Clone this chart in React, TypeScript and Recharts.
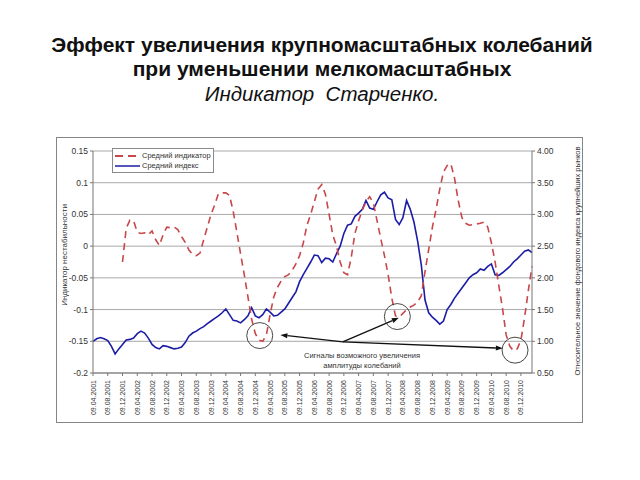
import {
  LineChart,
  Line,
  XAxis,
  YAxis,
  CartesianGrid,
  Legend,
  ReferenceDot,
  ReferenceLine,
} from 'recharts';

// monthly points, Apr 2001 .. Mar 2011
// relative value of the stock index (right axis)
const indexValues = [
  1.0, 1.04, 1.06, 1.04, 1.01, 0.92, 0.8, 0.88, 0.95, 1.02,
  1.03, 1.05, 1.12, 1.16, 1.13, 1.05, 0.95, 0.9, 0.88, 0.93,
  0.92, 0.9, 0.88, 0.89, 0.91, 0.98, 1.08, 1.13, 1.16, 1.2,
  1.23, 1.28, 1.32, 1.36, 1.4, 1.45, 1.51, 1.42, 1.33, 1.32,
  1.29, 1.34, 1.4, 1.53, 1.4, 1.37, 1.42, 1.51, 1.46, 1.4,
  1.41, 1.46, 1.51, 1.6, 1.69, 1.78, 1.94, 2.05, 2.15, 2.25,
  2.36, 2.35, 2.24, 2.31, 2.3, 2.25, 2.38, 2.5, 2.7, 2.83,
  2.85, 2.97, 3.02, 3.08, 3.22, 3.1, 3.08, 3.2, 3.31, 3.35,
  3.26, 3.23, 2.92, 2.84, 2.95, 3.22, 3.08, 2.88, 2.58, 2.2,
  1.65, 1.45, 1.38, 1.33, 1.27, 1.32, 1.5, 1.58, 1.68, 1.76,
  1.84, 1.92, 2.0, 2.05, 2.08, 2.14, 2.12, 2.18, 2.22, 2.05,
  2.04, 2.08, 2.13, 2.18, 2.25, 2.3, 2.36, 2.42, 2.44, 2.4,
];

// instability indicator (left axis)
const indicatorValues = [
  null, null, null, null, null, null, null, null, -0.025, 0.028,
  0.041, 0.04, 0.022, 0.02, 0.021, 0.018, 0.024, 0.01, 0.001, 0.018,
  0.03, 0.029, 0.03, 0.026, 0.015, 0.006, -0.006, -0.013, -0.015, -0.011,
  0.01, 0.03, 0.05, 0.065, 0.083, 0.084, 0.084, 0.08, 0.055, 0.022,
  -0.012, -0.045, -0.08, -0.115, -0.138, -0.148, -0.15, -0.14, -0.108, -0.08,
  -0.065, -0.055, -0.048, -0.045, -0.038, -0.028, -0.015, 0.005, 0.033, 0.05,
  0.07, 0.09, 0.097, 0.082, 0.05, 0.018, 0.0, -0.025, -0.042, -0.045,
  -0.018, 0.02, 0.04, 0.057, 0.07, 0.078, 0.068, 0.04, 0.012, -0.015,
  -0.045, -0.082, -0.11, -0.112, -0.106, -0.1, -0.096, -0.093, -0.088, -0.078,
  -0.04, -0.005, 0.03, 0.058, 0.09, 0.117, 0.127, 0.13, 0.107, 0.072,
  0.045, 0.036, 0.033, 0.034, 0.035, 0.036, 0.038, 0.03, 0.005, -0.025,
  -0.062, -0.098, -0.14, -0.158, -0.165, -0.162, -0.148, -0.112, -0.07, -0.032,
];

const tickLabels = [
  '09.04.2001', '09.08.2001', '09.12.2001', '09.04.2002', '09.08.2002', '09.12.2002',
  '09.04.2003', '09.08.2003', '09.12.2003', '09.04.2004', '09.08.2004', '09.12.2004',
  '09.04.2005', '09.08.2005', '09.12.2005', '09.04.2006', '09.08.2006', '09.12.2006',
  '09.04.2007', '09.08.2007', '09.12.2007', '09.04.2008', '09.08.2008', '09.12.2008',
  '09.04.2009', '09.08.2009', '09.12.2009', '09.04.2010', '09.08.2010', '09.12.2010',
];

const leftTicks = [0.15, 0.1, 0.05, 0, -0.05, -0.1, -0.15, -0.2];
const rightTicks = [4, 3.5, 3, 2.5, 2, 1.5, 1, 0.5];

// circled signals and the arrow from the caption, in chart coordinates
const signals = [
  { m: 45.2, v: -0.141 },
  { m: 82.5, v: -0.111 },
  { m: 114.4, v: -0.164 },
];
const arrowFrom = { m: 67.7, v: -0.151 };
const arrowTo = [
  { m: 50.8, v: -0.14 },
  { m: 82.9, v: -0.113 },
  { m: 111.1, v: -0.161 },
];

const data = indexValues.map((idx, i) => ({
  m: i,
  idx,
  ind: indicatorValues[i],
}));

const tickMonths = tickLabels.map((_, i) => i * 4);

const FONT = '"Liberation Sans", Arial, sans-serif';
const RED = '#c8474a';
const BLUE = '#1c1ca6';

const DateTick = (props: any) => {
  const { x, y, payload } = props;
  const label = tickLabels[Math.round(payload.value / 4)];
  const ty = y + 2;
  return (
    <text
      x={x}
      y={ty}
      dy={2.5}
      transform={`rotate(-90 ${x} ${ty})`}
      textAnchor="end"
      fontSize={7}
      fontFamily={FONT}
      fill="#333"
    >
      {label}
    </text>
  );
};

const Arrow = (props: any) => {
  const { x1, y1, x2, y2 } = props;
  const a = Math.atan2(y2 - y1, x2 - x1);
  const len = 7;
  const w = 2.6;
  const bx = x2 - len * Math.cos(a);
  const by = y2 - len * Math.sin(a);
  const px = -Math.sin(a) * w;
  const py = Math.cos(a) * w;
  return (
    <g>
      <line x1={x1} y1={y1} x2={bx} y2={by} stroke="#111" strokeWidth={1.3} />
      <polygon
        points={`${x2},${y2} ${bx + px},${by + py} ${bx - px},${by - py}`}
        fill="#111"
      />
    </g>
  );
};

const renderLegend = () => (
  <div
    style={{
      width: 102,
      height: 25,
      border: '1px solid #8a8a8a',
      background: '#fff',
      boxSizing: 'border-box',
      fontFamily: FONT,
      fontSize: 7.5,
      color: '#333',
      padding: '2px 0 0 2px',
      lineHeight: '10px',
    }}
  >
    <div style={{ display: 'flex', alignItems: 'center', height: 10 }}>
      <svg width={25} height={6} style={{ marginRight: 2 }}>
        <line x1={0} y1={3} x2={25} y2={3} stroke={RED} strokeWidth={2} strokeDasharray="8 5" />
      </svg>
      Средний индикатор
    </div>
    <div style={{ display: 'flex', alignItems: 'center', height: 10 }}>
      <svg width={25} height={6} style={{ marginRight: 2 }}>
        <line x1={0} y1={3} x2={25} y2={3} stroke={BLUE} strokeWidth={1.5} />
      </svg>
      Средний индекс
    </div>
  </div>
);

export default function App() {
  return (
    <div style={{ position: 'absolute', left: 0, top: 0, width: 640, height: 480, background: '#fff' }}>
      <div
        style={{
          position: 'absolute',
          left: 0,
          top: 33,
          width: 644,
          textAlign: 'center',
          fontFamily: FONT,
          fontWeight: 'bold',
          fontSize: 21,
          lineHeight: '24px',
          color: '#111',
        }}
      >
        Эффект увеличения крупномасштабных колебаний
        <br />
        при уменьшении мелкомасштабных
      </div>
      <div
        style={{
          position: 'absolute',
          left: 0,
          top: 82,
          width: 644,
          textAlign: 'center',
          fontFamily: FONT,
          fontStyle: 'italic',
          fontSize: 20.5,
          lineHeight: '24px',
          color: '#111',
          whiteSpace: 'pre',
        }}
      >
        {'Индикатор  Старченко.'}
      </div>

      <div
        style={{
          position: 'absolute',
          left: 56,
          top: 137,
          width: 527,
          height: 286,
          border: '1px solid #858585',
          boxSizing: 'border-box',
        }}
      />

      <div style={{ position: 'absolute', left: 0, top: 0 }}>
        <LineChart
          width={640}
          height={480}
          data={data}
          margin={{ top: 151, right: 58, bottom: 57, left: 56 }}
        >
          <CartesianGrid vertical={false} stroke="#a8a8a8" yAxisId="left" />
          <XAxis
            dataKey="m"
            type="number"
            domain={[0, 119]}
            ticks={tickMonths}
            interval={0}
            height={50}
            tick={<DateTick />}
            tickSize={3}
            stroke="#777"
          />
          <YAxis
            yAxisId="left"
            domain={[-0.2, 0.15]}
            ticks={leftTicks}
            interval={0}
            width={37}
            tickSize={3}
            stroke="#777"
            tick={{ fontSize: 8.5, fontFamily: FONT, fill: '#333' }}
          />
          <YAxis
            yAxisId="right"
            orientation="right"
            domain={[0.5, 4]}
            ticks={rightTicks}
            interval={0}
            width={50}
            tickSize={3}
            stroke="#777"
            tickFormatter={(v: number) => v.toFixed(2)}
            tick={{ fontSize: 8.5, fontFamily: FONT, fill: '#333' }}
          />
          <Legend
            verticalAlign="middle"
            align="center"
            layout="horizontal"
            content={renderLegend}
            wrapperStyle={{ left: 112, top: 148, width: 102, height: 25 }}
          />
          <Line
            yAxisId="right"
            dataKey="idx"
            name="Средний индекс"
            stroke={BLUE}
            strokeWidth={1.6}
            dot={false}
            isAnimationActive={false}
          />
          <Line
            yAxisId="left"
            dataKey="ind"
            name="Средний индикатор"
            stroke={RED}
            strokeWidth={1.6}
            strokeDasharray="7 5"
            dot={false}
            isAnimationActive={false}
          />
          {signals.map((s, i) => (
            <ReferenceDot
              key={`c${i}`}
              yAxisId="left"
              x={s.m}
              y={s.v}
              r={13}
              fill="none"
              stroke="#333"
              strokeWidth={0.9}
            />
          ))}
          {arrowTo.map((t, i) => (
            <ReferenceLine
              key={`a${i}`}
              yAxisId="left"
              segment={[
                { x: arrowFrom.m, y: arrowFrom.v },
                { x: t.m, y: t.v },
              ]}
              shape={<Arrow />}
            />
          ))}
        </LineChart>
      </div>

      <div
        style={{
          position: 'absolute',
          left: 282,
          top: 351,
          width: 160,
          textAlign: 'center',
          fontFamily: FONT,
          fontSize: 7.5,
          lineHeight: '10px',
          color: '#333',
        }}
      >
        Сигналы возможного увеличения
        <br />
        амплитуды колебаний
      </div>

      <div
        style={{
          position: 'absolute',
          left: 64,
          top: 255,
          transform: 'translate(-50%, -50%) rotate(-90deg)',
          whiteSpace: 'nowrap',
          fontFamily: FONT,
          fontSize: 8,
          color: '#333',
        }}
      >
        Индикатор нестабильности
      </div>
      <div
        style={{
          position: 'absolute',
          left: 577,
          top: 261,
          transform: 'translate(-50%, -50%) rotate(-90deg)',
          whiteSpace: 'nowrap',
          fontFamily: FONT,
          fontSize: 7.5,
          color: '#333',
        }}
      >
        Относительное значение фондового индекса крупнейших рынков
      </div>
    </div>
  );
}
